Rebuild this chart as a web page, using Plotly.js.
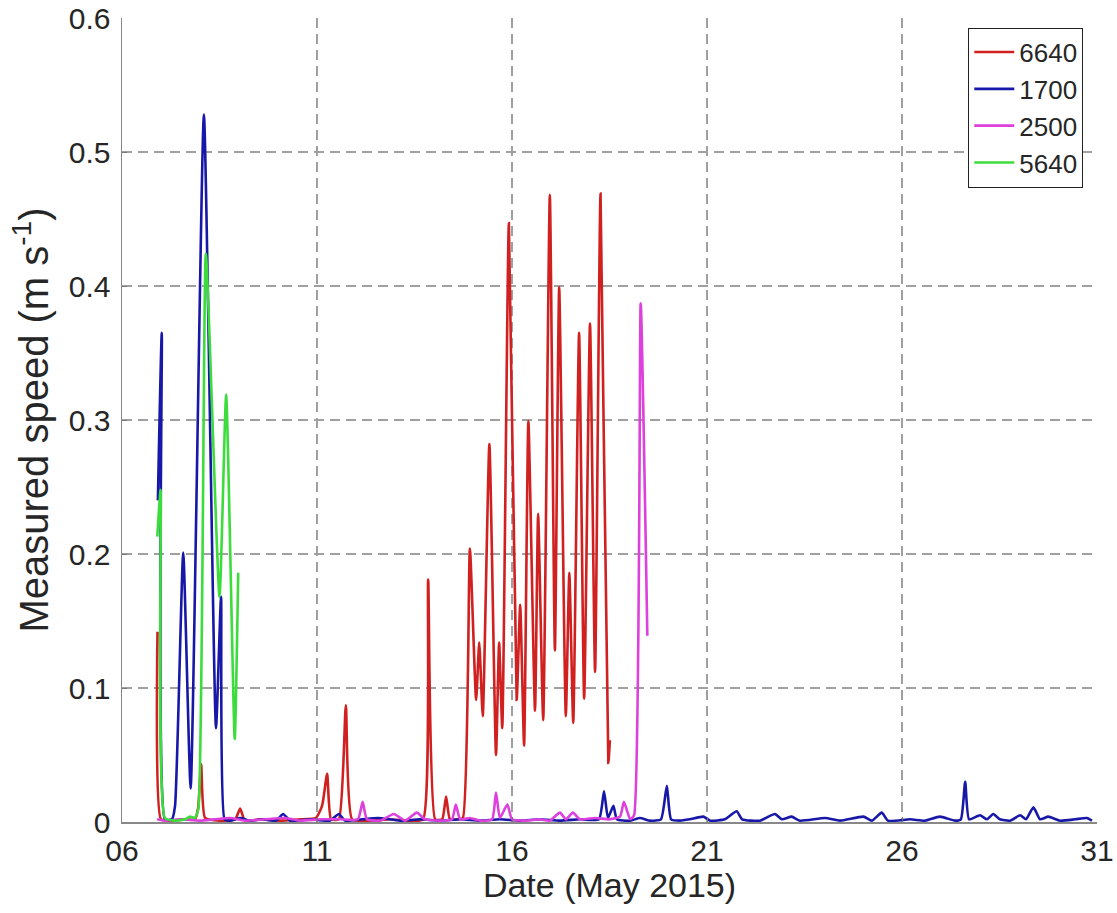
<!DOCTYPE html>
<html>
<head>
<meta charset="utf-8">
<script src="https://cdn.plot.ly/plotly-3.0.1.min.js"></script>
<style>
  html, body { margin: 0; padding: 0; background: #ffffff; }
  #chart { width: 1117px; height: 913px; }
</style>
</head>
<body>
<div id="chart"></div>
<script>
// Measured flow speed at four stations, May 2015 (time in decimal day of month)

// Station 6640
const day6640 = [6.91, 7.00, 7.23, 7.62, 7.87, 7.95, 8.03, 8.13, 8.51, 8.90, 9.03, 9.15, 9.54, 10.05, 10.56,
  10.97, 11.13, 11.26, 11.36, 11.56, 11.74, 11.90, 12.36, 12.87, 13.38, 13.72, 13.85, 14.03, 14.21, 14.31,
  14.41, 14.62, 14.74, 14.92, 15.08, 15.16, 15.25, 15.42, 15.59, 15.67, 15.75, 15.92, 16.12, 16.21, 16.31,
  16.42, 16.59, 16.67, 16.80, 16.97, 17.10, 17.21, 17.38, 17.47, 17.57, 17.72, 17.85, 18.00, 18.13, 18.27,
  18.47, 18.51];
const speed6640 = [0.142, 0.002, 0.001, 0.002, 0.002, 0.010, 0.043, 0.003, 0.001, 0.002, 0.010, 0.001, 0.002, 0.001, 0.002,
  0.003, 0.012, 0.036, 0.002, 0.002, 0.087, 0.002, 0.001, 0.002, 0.001, 0.002, 0.181, 0.002, 0.002, 0.019,
  0.002, 0.002, 0.003, 0.204, 0.091, 0.134, 0.079, 0.282, 0.050, 0.134, 0.070, 0.447, 0.091, 0.162, 0.057,
  0.299, 0.083, 0.230, 0.076, 0.468, 0.128, 0.399, 0.079, 0.186, 0.074, 0.365, 0.092, 0.372, 0.112, 0.469,
  0.044, 0.061];

// Station 1700
const day1700 = [6.92, 7.02, 7.10, 7.28, 7.36, 7.57, 7.76, 8.10, 8.41, 8.54, 8.63, 8.77, 9.03, 9.28, 9.59,
  9.95, 10.13, 10.31, 10.82, 11.33, 11.56, 11.72, 12.15, 12.56, 13.13, 13.64, 14.15, 14.67, 15.18, 15.69,
  16.21, 16.72, 17.23, 17.74, 18.23, 18.36, 18.46, 18.60, 18.69, 19.03, 19.28, 19.54, 19.82, 19.97, 20.08,
  20.31, 20.56, 20.91, 21.08, 21.46, 21.76, 21.90, 22.36, 22.74, 22.92, 23.17, 23.38, 24.03, 24.41, 25.01,
  25.23, 25.48, 25.64, 26.21, 26.59, 26.97, 27.36, 27.51, 27.62, 27.72, 28.00, 28.18, 28.34, 28.51, 28.77,
  29.03, 29.18, 29.37, 29.54, 29.75, 30.05, 30.44, 30.74, 30.87];
const speed1700 = [0.240, 0.365, 0.002, 0.002, 0.012, 0.201, 0.025, 0.528, 0.070, 0.168, 0.002, 0.001, 0.003, 0.001, 0.002,
  0.001, 0.006, 0.001, 0.002, 0.001, 0.006, 0.001, 0.002, 0.003, 0.001, 0.002, 0.001, 0.002, 0.001, 0.002,
  0.001, 0.002, 0.001, 0.002, 0.002, 0.023, 0.003, 0.012, 0.002, 0.001, 0.003, 0.001, 0.002, 0.027, 0.002,
  0.001, 0.002, 0.004, 0.001, 0.002, 0.008, 0.002, 0.001, 0.006, 0.002, 0.004, 0.001, 0.003, 0.001, 0.004,
  0.001, 0.007, 0.001, 0.002, 0.001, 0.004, 0.001, 0.002, 0.030, 0.002, 0.005, 0.002, 0.006, 0.002, 0.001,
  0.005, 0.002, 0.011, 0.002, 0.004, 0.001, 0.002, 0.003, 0.001];

// Station 2500
const day2500 = [6.90, 7.10, 7.49, 8.00, 8.38, 8.77, 9.15, 9.67, 10.18, 10.56, 11.08, 11.59, 12.05, 12.17, 12.28,
  12.62, 12.97, 13.26, 13.56, 13.77, 14.15, 14.46, 14.56, 14.67, 14.92, 15.18, 15.49, 15.59, 15.69, 15.88,
  16.00, 16.33, 16.72, 16.97, 17.23, 17.38, 17.56, 17.74, 18.13, 18.51, 18.77, 18.87, 19.03, 19.13, 19.30,
  19.47];
const speed2500 = [0.002, 0.001, 0.002, 0.001, 0.002, 0.003, 0.001, 0.002, 0.003, 0.001, 0.002, 0.002, 0.002, 0.015, 0.002,
  0.001, 0.006, 0.001, 0.007, 0.002, 0.001, 0.002, 0.013, 0.002, 0.003, 0.001, 0.002, 0.022, 0.003, 0.013,
  0.002, 0.001, 0.002, 0.001, 0.007, 0.002, 0.007, 0.002, 0.003, 0.002, 0.004, 0.015, 0.002, 0.005, 0.387,
  0.139];

// Station 5640
const day5640 = [6.905, 6.99, 7.10, 7.36, 7.62, 7.74, 7.87, 7.96, 8.15, 8.50, 8.67, 8.89, 8.98];
const speed5640 = [0.213, 0.248, 0.003, 0.001, 0.002, 0.004, 0.003, 0.010, 0.424, 0.168, 0.319, 0.062, 0.186];

const tickDays = [6, 11, 16, 21, 26, 31];
const tickText = ['06', '11', '16', '21', '26', '31'];

const FONT = 'Liberation Sans, Arial, Helvetica, sans-serif';
const TEXT = '#262626';
const LINE_W = 2.6;

const traces = [
  { x: day6640, y: speed6640, name: '6640', color: '#d02020' },
  { x: day1700, y: speed1700, name: '1700', color: '#1818a8' },
  { x: day2500, y: speed2500, name: '2500', color: '#dd40dd' },
  { x: day5640, y: speed5640, name: '5640', color: '#3cdc3c' }
].map(s => ({
  type: 'scatter',
  mode: 'lines',
  x: s.x,
  y: s.y,
  name: s.name,
  line: { color: s.color, width: LINE_W, shape: 'spline', smoothing: 0.5 },
  hoverinfo: 'x+y+name'
}));

const layout = {
  width: 1117,
  height: 913,
  margin: { l: 122, r: 20, t: 18, b: 91 },
  paper_bgcolor: '#ffffff',
  plot_bgcolor: '#ffffff',
  font: { family: FONT, color: TEXT },
  showlegend: true,
  legend: {
    x: 0.868, y: 0.988, xanchor: 'left', yanchor: 'top',
    bgcolor: '#ffffff',
    bordercolor: '#222222',
    borderwidth: 1,
    itemwidth: 40,
    font: { family: FONT, size: 26, color: TEXT },
    tracegroupgap: 0
  },
  xaxis: {
    range: [6, 31],
    tickvals: tickDays,
    ticktext: tickText,
    tickfont: { family: FONT, size: 30, color: TEXT },
    ticks: 'inside', ticklen: 5, tickcolor: '#777777',
    ticklabelstandoff: 1,
    showgrid: true, gridcolor: '#a0a0a0', gridwidth: 1.2, griddash: '10px,6px',
    showline: true, linecolor: '#888888', linewidth: 1.5,
    zeroline: false,
    title: { text: 'Date (May 2015)', font: { family: FONT, size: 34, color: TEXT }, standoff: 4 }
  },
  yaxis: {
    range: [0, 0.6],
    tickvals: [0, 0.1, 0.2, 0.3, 0.4, 0.5, 0.6],
    ticktext: ['0', '0.1', '0.2', '0.3', '0.4', '0.5', '0.6'],
    tickfont: { family: FONT, size: 30, color: TEXT },
    ticks: 'inside', ticklen: 5, tickcolor: '#777777',
    ticklabelstandoff: 4,
    showgrid: true, gridcolor: '#a0a0a0', gridwidth: 1.2, griddash: '10px,6px',
    showline: true, linecolor: '#888888', linewidth: 1.5,
    zeroline: false,
    title: { text: 'Measured speed (m s<sup>-1</sup>)', font: { family: FONT, size: 40, color: TEXT }, standoff: 8 }
  }
};

Plotly.newPlot('chart', traces, layout, { displayModeBar: false, staticPlot: true });
</script>
</body>
</html>
